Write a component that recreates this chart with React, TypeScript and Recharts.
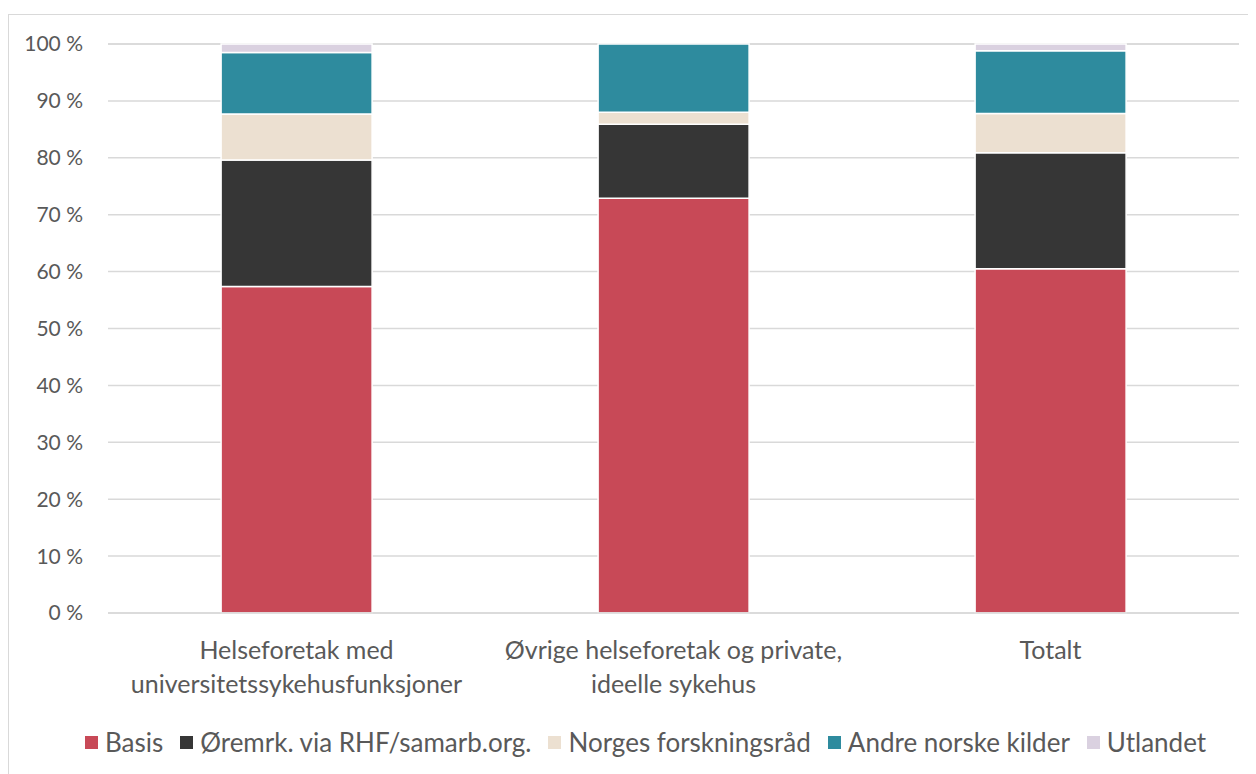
import React from "react";
import { BarChart, Bar, XAxis, YAxis, CartesianGrid, Legend } from "recharts";

const categories = [
  "Helseforetak med\nuniversitetssykehusfunksjoner",
  "Øvrige helseforetak og private,\nideelle sykehus",
  "Totalt",
];
const basis = [57.4, 72.9, 60.5];
const oremrk = [22.2, 13.0, 20.4];
const norges = [8.1, 2.1, 6.9];
const andre = [10.8, 12.0, 11.0];
const utlandet = [1.5, 0, 1.2];
const yTicks = [0, 10, 20, 30, 40, 50, 60, 70, 80, 90, 100];

const series = [
  { key: "basis", name: "Basis", color: "#C84957", values: basis },
  { key: "oremrk", name: "Øremrk. via RHF/samarb.org.", color: "#363636", values: oremrk },
  { key: "norges", name: "Norges forskningsråd", color: "#ECE0D1", values: norges },
  { key: "andre", name: "Andre norske kilder", color: "#2E8B9E", values: andre },
  { key: "utlandet", name: "Utlandet", color: "#DAD1E0", values: utlandet },
];

const data = categories.map((c, i) => {
  const row: any = { name: c };
  series.forEach((s) => (row[s.key] = s.values[i]));
  return row;
});

const FONT = "Lato, 'Carlito', sans-serif";
const GRAY = "#595959";

const XTick = (props: any) => {
  const { x, y, payload } = props;
  const lines = String(payload.value).split("\n");
  return (
    <g>
      {lines.map((l, i) => (
        <text
          key={i}
          x={x}
          y={y + 46 + i * 34}
          textAnchor="middle"
          fill={GRAY}
          fontSize={25}
          fontFamily={FONT}
        >
          {l}
        </text>
      ))}
    </g>
  );
};

const LegendContent = () => (
  <div
    style={{
      display: "flex",
      justifyContent: "center",
      alignItems: "center",
      fontFamily: FONT,
      fontSize: 26,
      color: GRAY,
      whiteSpace: "nowrap",
      paddingLeft: 26,
    }}
  >
    {series.map((s, i) => (
      <div
        key={s.key}
        style={{ display: "flex", alignItems: "center", marginRight: i < series.length - 1 ? 17 : 0 }}
      >
        <div style={{ width: 13, height: 13, background: s.color, marginRight: 7 }} />
        <span>{s.name}</span>
      </div>
    ))}
  </div>
);

export default function App() {
  return (
    <div
      style={{
        marginTop: 6,
        width: 1248,
        height: 760,
        borderLeft: "1px solid #d9d9d9",
        borderTop: "1px solid #d9d9d9",
        boxSizing: "border-box",
        background: "#fff",
      }}
    >
      <BarChart
        width={1247}
        height={759}
        data={data}
        margin={{ top: 29, right: 17, left: 0, bottom: 61 }}
        barCategoryGap="30%"
      >
        <CartesianGrid vertical={false} stroke="#d9d9d9" strokeWidth={1.5} />
        <XAxis
          dataKey="name"
          axisLine={{ stroke: "#d9d9d9", strokeWidth: 1.5 }}
          tickLine={false}
          tickSize={0}
          tickMargin={0}
          height={100}
          interval={0}
          tick={<XTick />}
        />
        <YAxis
          domain={[0, 100]}
          ticks={yTicks}
          width={99}
          axisLine={false}
          tickLine={false}
          tickSize={0}
          tickMargin={25}
          tickFormatter={(v: number) => `${v} %`}
          tick={{ fill: GRAY, fontSize: 21, fontFamily: FONT }}
        />
        <Legend
          verticalAlign="middle"
          layout="horizontal"
          content={<LegendContent />}
          wrapperStyle={{ position: "absolute", top: 711, left: 0, width: 1247 }}
        />
        {series.map((s) => (
          <Bar
            key={s.key}
            dataKey={s.key}
            name={s.name}
            stackId="a"
            fill={s.color}
            stroke="#fff"
            strokeWidth={1.5}
            isAnimationActive={false}
          />
        ))}
      </BarChart>
    </div>
  );
}
